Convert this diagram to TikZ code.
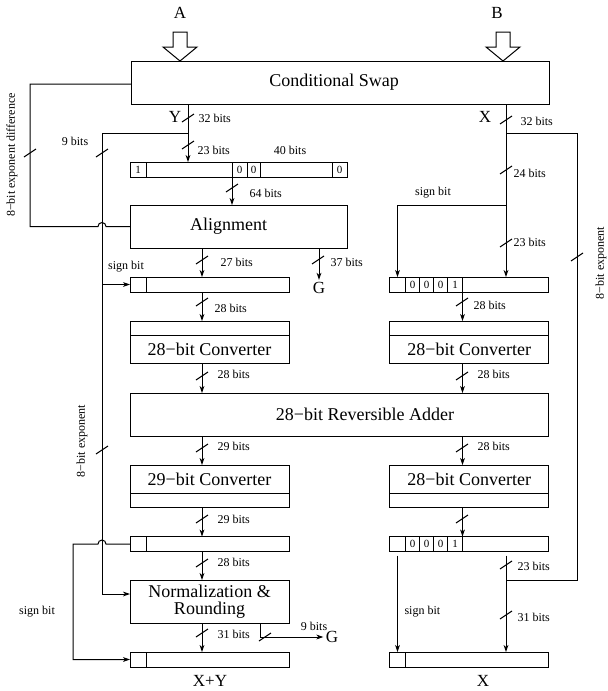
\documentclass[tikz,border=0pt]{standalone}
\usepackage{fontspec}
\setmainfont{Liberation Serif}
\usetikzlibrary{arrows.meta, calc, positioning}
\tikzset{
    block-box/.style={
        draw, inner sep=0pt, outer sep=0pt, minimum height=21.5pt, font=\fontsize{9}{10}\selectfont
    },
    conv-box/.style={block-box, minimum width=79.5pt, minimum height=14pt},
    conv-strip/.style={draw, inner sep=0pt, outer sep=0pt, minimum width=79.5pt, minimum height=7pt},
    reg-cell/.style={draw, inner sep=0pt, outer sep=0pt, minimum height=7.5pt, font=\fontsize{5.5}{6}\selectfont},
    bits-label/.style={anchor=west, inner sep=1pt, font=\fontsize{6}{7}\selectfont},
    side-label/.style={inner sep=1pt, font=\fontsize{6}{7}\selectfont},
    sig-label/.style={inner sep=1pt, font=\fontsize{8.5}{10}\selectfont},
    feed/.style={-{Stealth[length=3.5pt, width=2.4pt, inset=1pt]}},
}
\newcommand{\slashmark}[1]{\draw ($(#1)+(-6,4)$) -- ($(#1)+(6,-4)$);}

\begin{document}
\begin{tikzpicture}[x=0.5pt, y=-0.5pt, line width=0.5pt]

        \useasboundingbox (0,0) rectangle (608,691);

        % INPUTS
        \node[sig-label] (A)    at (180,13)  {A};
        \node[sig-label] (B)    at (497,13)  {B};
        \coordinate      (AIN)  at (180,61);
        \coordinate      (BIN)  at (503,61);
        \draw (AIN) -- ++(-17,-14) -- ++(10,0) -- ++(0,-15) -- ++(14,0) -- ++(0,15) -- ++(10,0) -- cycle;
        \draw (BIN) -- ++(-17,-14) -- ++(10,0) -- ++(0,-15) -- ++(14,0) -- ++(0,15) -- ++(10,0) -- cycle;

        % BLOCKS
        \node[block-box, minimum width=209pt]   (SWAP)  at (340,82.5)    {Conditional Swap\hspace*{6pt}};
        \node[block-box, minimum width=108.5pt] (ALIGN) at (238.5,226.5) {Alignment\hspace*{10pt}};
        \node[block-box, minimum width=209pt]   (ADDER) at (339,414.5)   {\hspace*{26pt}28−bit Reversible Adder};
        \node[block-box, minimum width=79.5pt, align=center, font=\fontsize{9}{8.8}\selectfont]
                                                (NORM)  at (209.5,601.5) {Normalization \&\\Rounding};

        % CONVERTERS
        \node[conv-box]                      (CONVL1)  at (209.5,349) {28−bit Converter};
        \node[conv-strip, above=0pt of CONVL1] (CONVL1S) {};
        \node[conv-box]                      (CONVR1)  at (469.25,349) {28−bit Converter};
        \node[conv-strip, above=0pt of CONVR1] (CONVR1S) {};
        \node[conv-box]                      (CONVL2)  at (209.5,479) {29−bit Converter};
        \node[conv-strip, below=0pt of CONVL2] (CONVL2S) {};
        \node[conv-box]                      (CONVR2)  at (469.25,479) {28−bit Converter};
        \node[conv-strip, below=0pt of CONVR2] (CONVR2S) {};

        % REGISTERS, Y SIDE
        \node[reg-cell, minimum width=8pt, anchor=west] (YA1) at (130,169.5) {1};
        \node[reg-cell, minimum width=43pt,  right=0pt of YA1] (YA2) {};
        \node[reg-cell, minimum width=7.5pt, right=0pt of YA2] (YA3) {0};
        \node[reg-cell, minimum width=6.5pt, right=0pt of YA3] (YA4) {0};
        \node[reg-cell, minimum width=36pt,  right=0pt of YA4] (YA5) {};
        \node[reg-cell, minimum width=7.5pt, right=0pt of YA5] (YA6) {0};

        \node[reg-cell, minimum width=8pt, anchor=west] (SA1) at (130,284.5) {};
        \node[reg-cell, minimum width=71.5pt, right=0pt of SA1] (SA2) {};
        \node[reg-cell, minimum width=8pt, anchor=west] (SB1) at (130,544) {};
        \node[reg-cell, minimum width=71.5pt, right=0pt of SB1] (SB2) {};
        \node[reg-cell, minimum width=8pt, anchor=west] (SO1) at (130,659.5) {};
        \node[reg-cell, minimum width=71.5pt, right=0pt of SO1] (SO2) {};

        % REGISTERS, X SIDE
        \node[reg-cell, minimum width=8pt, anchor=west] (XA1) at (389.5,284.5) {};
        \node[reg-cell, minimum width=7pt,   right=0pt of XA1] (XA2) {0};
        \node[reg-cell, minimum width=7pt,   right=0pt of XA2] (XA3) {0};
        \node[reg-cell, minimum width=7pt,   right=0pt of XA3] (XA4) {0};
        \node[reg-cell, minimum width=7.5pt, right=0pt of XA4] (XA5) {1};
        \node[reg-cell, minimum width=43pt,  right=0pt of XA5] (XA6) {};

        \node[reg-cell, minimum width=8pt, anchor=west] (XB1) at (389.5,544) {};
        \node[reg-cell, minimum width=7pt,   right=0pt of XB1] (XB2) {0};
        \node[reg-cell, minimum width=7pt,   right=0pt of XB2] (XB3) {0};
        \node[reg-cell, minimum width=7pt,   right=0pt of XB3] (XB4) {0};
        \node[reg-cell, minimum width=7.5pt, right=0pt of XB4] (XB5) {1};
        \node[reg-cell, minimum width=43pt,  right=0pt of XB5] (XB6) {};

        \node[reg-cell, minimum width=8pt, anchor=west] (XO1) at (389.5,659.5) {};
        \node[reg-cell, minimum width=71.5pt, right=0pt of XO1] (XO2) {};

        % OUTPUTS
        \node[sig-label] (Y)  at (175,117) {Y};
        \node[sig-label] (X)  at (485,117) {X};
        \node[sig-label] (G1) at (319,288) {G};
        \node[sig-label] (G2) at (332,637) {G};
        \node[sig-label] (XY) at (210,681) {X+Y};
        \node[sig-label] (XR) at (483,681) {X};

        % WIRE POINTS
        \coordinate (YTAP)  at (188,133);
        \coordinate (NINE)  at (102,133);
        \coordinate (NINEB) at (102,594);
        \coordinate (DIFF)  at (30,84);
        \coordinate (SGNL)  at (73,546);
        \coordinate (GTAP)  at (260,637);
        \coordinate (LBUS)  at (202,0);
        \coordinate (RBUS)  at (XA6.south west);
        \coordinate (XTAP)  at (506,133);
        \coordinate (XEXP)  at (577,133);
        \coordinate (SGNR)  at (506,205);
        \coordinate (XJOIN) at (506,580);

        % Y PATH
        \draw (SWAP.south -| YTAP) -- (YTAP);
        \draw[feed] (YTAP) -- (YTAP |- YA2.north);
        \draw[feed] (YA3.south west) -- (YA3.south west |- ALIGN.north);
        \draw (SWAP.west |- DIFF) -- (DIFF) -- (DIFF |- ALIGN.west)
              -- ($(ALIGN.west -| NINE)+(-4,0)$) arc (180:0:2pt) -- (ALIGN.west);
        \draw (YTAP) -- (NINE) -- (NINEB);
        \draw[feed] (NINEB) -- (NINEB -| NORM.west);
        \draw[feed] (SA1.west -| NINE) -- (SA1.west);
        \draw[feed] (ALIGN.south -| G1) -- (G1.north);
        \slashmark{188,118}
        \slashmark{188,145}
        \slashmark{30,153}
        \slashmark{102,153}
        \slashmark{232,188}
        \slashmark{318,260}
        \slashmark{102,450}

        % LEFT COLUMN
        \draw[feed] (ALIGN.south -| LBUS)   -- (SA2.north -| LBUS);
        \draw[feed] (SA2.south -| LBUS)     -- (CONVL1S.north -| LBUS);
        \draw[feed] (CONVL1.south -| LBUS)  -- (ADDER.north -| LBUS);
        \draw[feed] (ADDER.south -| LBUS)   -- (CONVL2.north -| LBUS);
        \draw[feed] (CONVL2S.south -| LBUS) -- (SB2.north -| LBUS);
        \draw[feed] (SB2.south -| LBUS)     -- (NORM.north -| LBUS);
        \draw[feed] (NORM.south -| LBUS)    -- (SO2.north -| LBUS);
        \draw[feed] (NORM.south -| GTAP) -- (GTAP) -- (GTAP -| G2.west);
        \draw[feed] (SB1.west) -- ($(SB1.west -| NINE)+(4,0)$) arc (0:180:2pt)
              -- (SB1.west -| SGNL) -- (SGNL |- SO1.west) -- (SO1.west);
        \slashmark{202,260}
        \slashmark{202,302}
        \slashmark{202,376}
        \slashmark{202,448}
        \slashmark{202,519}
        \slashmark{202,563}
        \slashmark{202,633}
        \slashmark{265,637}

        % X PATH
        \draw (SWAP.south -| XTAP) -- (XTAP);
        \draw[feed] (XTAP) -- (XTAP |- XA6.north);
        \draw[feed] (SGNR) -- (SGNR -| XA1) -- (XA1.north);
        \draw (XTAP) -- (XEXP) -- (XEXP |- XJOIN) -- (XJOIN);
        \draw[feed] (RBUS) -- (RBUS |- CONVR1S.north);
        \draw[feed] (CONVR1.south -| RBUS)  -- (ADDER.north -| RBUS);
        \draw[feed] (ADDER.south -| RBUS)   -- (CONVR2.north -| RBUS);
        \draw[feed] (CONVR2S.south -| RBUS) -- (XB6.north west);
        \draw[feed] ($(XB1.south)+(0,4)$) -- (XO1.north);
        \draw[feed] ($(XB6.south -| XTAP)+(0,4)$) -- (XO2.north -| XTAP);
        \slashmark{506,120}
        \slashmark{506,170}
        \slashmark{506,243}
        \slashmark{577,257}
        \slashmark{462,302}
        \slashmark{462,376}
        \slashmark{462,448}
        \slashmark{462,519}
        \slashmark{506,565}
        \slashmark{506,615}

        % BIT LABELS
        \node[bits-label] (L32Y) at (196,118) {32 bits};
        \node[bits-label] (L32X) at (518,121) {32 bits};
        \node[side-label] (L9)   at (75,141)  {9 bits};
        \node[bits-label] (L23Y) at (195,150) {23 bits};
        \node[side-label] (L40)  at (290,150) {40 bits};
        \node[bits-label] (L64)  at (247,193) {64 bits};
        \node[bits-label] (L27)  at (218,262) {27 bits};
        \node[bits-label] (L37)  at (328,262) {37 bits};
        \node[bits-label] (L24)  at (511,173) {24 bits};
        \node[bits-label] (L23X) at (511,242) {23 bits};
        \node[bits-label] (L28A) at (212,308) {28 bits};
        \node[bits-label] (L28B) at (215,374) {28 bits};
        \node[bits-label] (L28C) at (471,305) {28 bits};
        \node[bits-label] (L28D) at (475,374) {28 bits};
        \node[bits-label] (L29A) at (215,446) {29 bits};
        \node[bits-label] (L28E) at (475,446) {28 bits};
        \node[bits-label] (L29B) at (215,519) {29 bits};
        \node[bits-label] (L28F) at (215,562) {28 bits};
        \node[bits-label] (L31A) at (215,634) {31 bits};
        \node[side-label] (L9G)  at (314,626) {9 bits};
        \node[bits-label] (L23R) at (515,566) {23 bits};
        \node[bits-label] (L31R) at (515,617) {31 bits};

        % SIGN AND EXPONENT LABELS
        \node[side-label] (LSGN1) at (126,267) {sign bit};
        \node[side-label] (LSGN2) at (433,193) {sign bit};
        \node[bits-label] (LSGN3) at (402,612) {sign bit};
        \node[side-label] (LSGN4) at (37,612)  {sign bit};
        \node[side-label, rotate=90] (LEXPD) at (12,155)  {8−bit exponent difference};
        \node[side-label, rotate=90] (LEXPY) at (82,441)  {8−bit exponent};
        \node[side-label, rotate=90] (LEXPX) at (601,263) {8−bit exponent};

    \end{tikzpicture}
\end{document}
